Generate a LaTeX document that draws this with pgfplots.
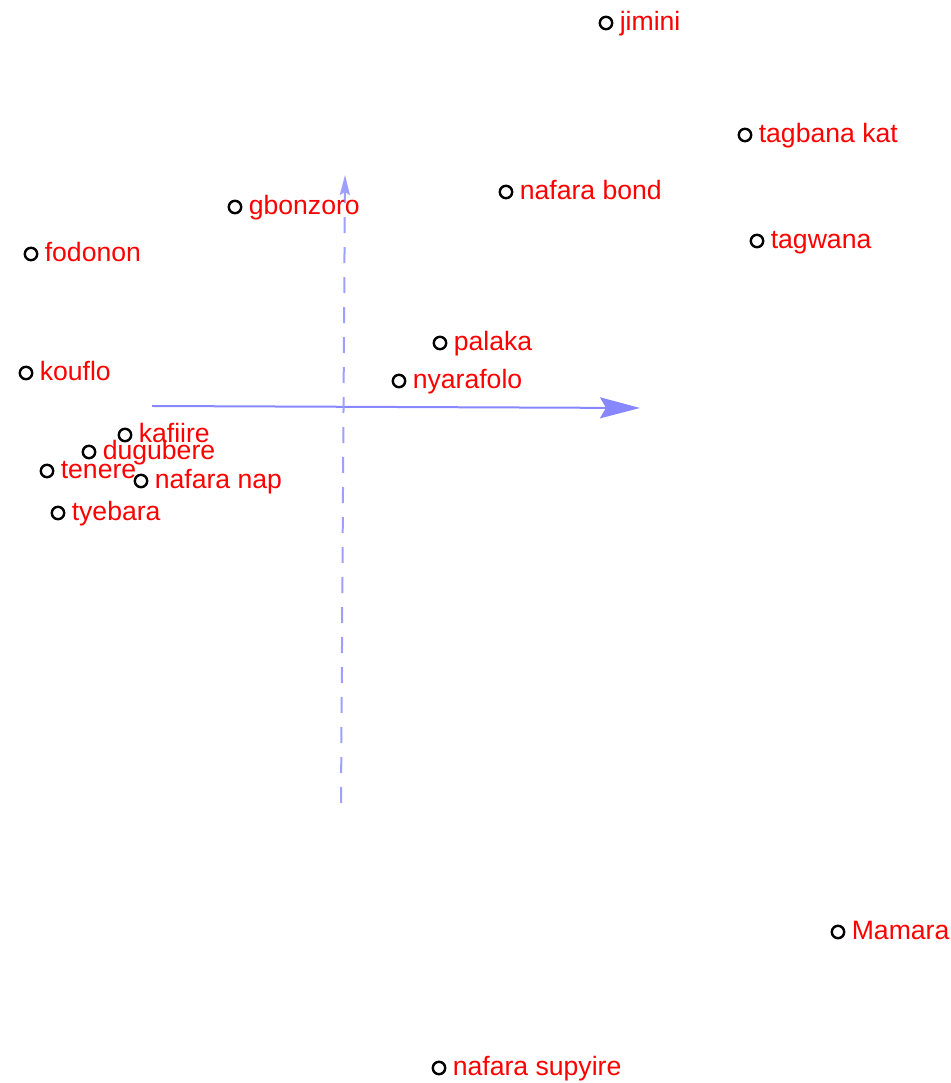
\documentclass[border=0pt]{standalone}
\usepackage{pgfplots}
\pgfplotsset{compat=1.18}
\usepackage{pgfplotstable}
\usepackage{fontspec}
\setmainfont{Liberation Sans}
\usetikzlibrary{arrows.meta}
\definecolor{axblue}{RGB}{135,135,255}
\pgfplotstableread[col sep=comma]{
x,y,label
606,1060,jimini
745,948,tagbana kat
506,891,nafara bond
235,876,gbonzoro
757,842,tagwana
31,829,fodonon
440,740,palaka
26,710,kouflo
399,702,nyarafolo
125,648,kafiire
89,631,dugubere
47,612,tenere
141,602,nafara nap
58,570,tyebara
838,151,Mamara
439,15,nafara supyire
}\pts
\begin{document}
\begin{tikzpicture}
\useasboundingbox (0,0) rectangle (475.5pt,541.5pt);
\begin{axis}[at={(0,0)}, anchor=south west, scale only axis,
  width=475.5pt, height=541.5pt,
  xmin=0, xmax=951, ymin=0, ymax=1083,
  hide axis, clip=false]
\addplot[axblue, line width=1pt, -{Stealth[length=20pt,width=10.5pt,inset=3pt]}]
  coordinates {(152,677) (640,675)};
\addplot[axblue!80, line width=1pt, dash pattern=on 8pt off 7pt, -{Stealth[length=10pt,width=5pt,inset=1.5pt]}]
  coordinates {(341,280) (345,908)};
\addplot[only marks, mark=o, mark size=3.1pt, black, line width=1.2pt,
  point meta=explicit symbolic, nodes near coords,
  nodes near coords style={anchor=base west, xshift=6.3pt, yshift=-4pt, inner sep=0pt,
    text=red, font=\fontsize{13.3pt}{15pt}\selectfont}]
  table[x=x, y=y, meta=label] {\pts};
\end{axis}
\end{tikzpicture}
\end{document}
